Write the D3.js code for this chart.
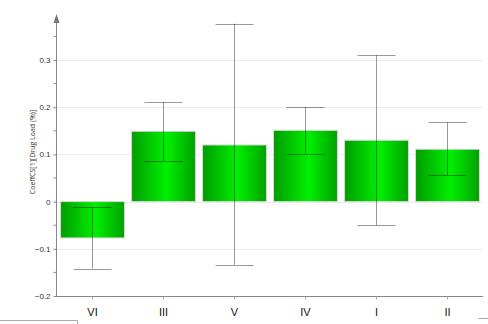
<!DOCTYPE html>
<html>
<head>
<meta charset="utf-8">
<script src="https://cdnjs.cloudflare.com/ajax/libs/d3/7.8.5/d3.min.js"></script>
<style>
  body { margin: 0; background: #fff; }
  svg { display: block; font-family: "Open Sans", "DejaVu Sans", sans-serif; }
</style>
</head>
<body>
<div id="chart"></div>
<script>
const categories = ['VI', 'III', 'V', 'IV', 'I', 'II'];
const values = [-0.077, 0.149, 0.12, 0.151, 0.13, 0.111];
const errHigh = [-0.012, 0.211, 0.377, 0.2, 0.31, 0.168];
const errLow = [-0.142, 0.087, -0.134, 0.101, -0.05, 0.056];
const yTicks = [-0.2, -0.1, 0, 0.1, 0.2, 0.3];
const yMinorTicks = [-0.15, -0.05, 0.05, 0.15, 0.25, 0.35];

const width = 488;
const height = 324;
const plotLeft = 56, plotRight = 483, plotTop = 14, plotBottom = 296;

const svg = d3.select('#chart')
  .append('svg')
  .attr('width', width)
  .attr('height', height);

const y = d3.scaleLinear().domain([-0.2, 0.3]).range([plotBottom, 60]);
const x = d3.scaleBand().domain(categories).range([plotLeft + 1, plotRight]).paddingInner(0.1).paddingOuter(0.05);

// gradient for bars
const grad = svg.append('defs').append('linearGradient')
  .attr('id', 'barGrad')
  .attr('x1', '0%').attr('x2', '100%').attr('y1', '0%').attr('y2', '0%');
grad.append('stop').attr('offset', '0%').attr('stop-color', '#009c00');
grad.append('stop').attr('offset', '55%').attr('stop-color', '#00f000');
grad.append('stop').attr('offset', '100%').attr('stop-color', '#00a000');

// grid lines
svg.append('g')
  .selectAll('line')
  .data(yTicks.filter(d => d !== -0.2))
  .enter().append('line')
  .attr('x1', plotLeft).attr('x2', plotRight)
  .attr('y1', d => Math.round(y(d)) + 0.5).attr('y2', d => Math.round(y(d)) + 0.5)
  .style('stroke', '#ececec')
  .style('stroke-width', '1px');

// bars
svg.append('g')
  .selectAll('rect')
  .data(values)
  .enter().append('rect')
  .attr('x', (d, i) => x(categories[i]))
  .attr('width', x.bandwidth())
  .attr('y', d => y(Math.max(0, d)))
  .attr('height', d => Math.abs(y(d) - y(0)))
  .attr('fill', 'url(#barGrad)')
  .style('stroke', '#d8d8d8')
  .style('stroke-width', '1px');

// error bars
const capW = 38;
const eb = svg.append('g').style('stroke', '#000').style('stroke-width', '1px').style('stroke-opacity', 0.4);
categories.forEach((c, i) => {
  const cx = Math.round(x(c) + x.bandwidth() / 2) + 0.5;
  eb.append('line').attr('x1', cx).attr('x2', cx).attr('y1', y(errHigh[i])).attr('y2', y(errLow[i]));
  [errHigh[i], errLow[i]].forEach(v => {
    eb.append('line').attr('x1', cx - capW / 2).attr('x2', cx + capW / 2)
      .attr('y1', Math.round(y(v)) + 0.5).attr('y2', Math.round(y(v)) + 0.5);
  });
});

// y axis
const yAxis = d3.axisLeft(y).tickValues(yTicks).tickSize(3).tickFormat(d => d3.format('')(+d.toFixed(1)));
const gy = svg.append('g').attr('transform', `translate(${plotLeft + 0.5},0)`).call(yAxis);
gy.select('.domain').remove();
gy.selectAll('.tick line').style('stroke', '#888');
gy.selectAll('.tick text').style('font-size', '8px').style('fill', '#333');
gy.selectAll('.minor')
  .data(yMinorTicks)
  .enter().append('line')
  .attr('x1', -3).attr('x2', 0)
  .attr('y1', d => y(d)).attr('y2', d => y(d))
  .style('stroke', '#888');
svg.append('line')
  .attr('x1', plotLeft + 0.5).attr('x2', plotLeft + 0.5)
  .attr('y1', plotTop + 6).attr('y2', plotBottom)
  .style('stroke', '#888');
svg.append('path')
  .attr('d', `M${plotLeft + 0.5},${plotTop} L${plotLeft + 3.5},${plotTop + 9} L${plotLeft - 2.5},${plotTop + 9} Z`)
  .attr('fill', '#777');

// x axis
const xAxis = d3.axisBottom(x).tickSize(3).tickPadding(9);
const gx = svg.append('g').attr('transform', `translate(0,${plotBottom + 0.5})`).call(xAxis);
gx.select('.domain').attr('d', `M${plotLeft},0H${plotRight}`).style('stroke', '#888');
gx.selectAll('.tick line').style('stroke', '#aaa');
gx.selectAll('.tick text').style('font-size', '11px').style('fill', '#111');

// y axis title
svg.append('text')
  .attr('transform', `translate(35,152) rotate(-90)`)
  .attr('text-anchor', 'middle')
  .style('font-family', '"Open Sans", sans-serif')
  .style('font-size', '7px')
  .style('fill', '#333')
  .text('CoeffCS[1][Drug Load (%)]');

// panel edges at the bottom
svg.append('path')
  .attr('d', 'M0,320.5H77.5V324')
  .attr('fill', 'none')
  .style('stroke', '#aaa');
svg.append('line')
  .attr('x1', 478).attr('x2', 488).attr('y1', 318.5).attr('y2', 318.5)
  .style('stroke', '#aaa');
</script>
</body>
</html>
